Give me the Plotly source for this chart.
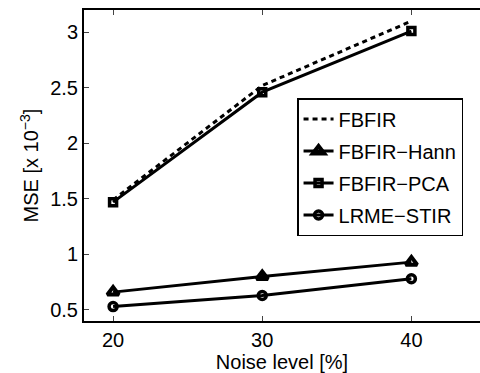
import plotly.graph_objects as go

noise = [20, 30, 40]
fbfir = [1.49, 2.52, 3.10]
fbfir_hann = [0.66, 0.80, 0.93]
fbfir_pca = [1.47, 2.46, 3.01]
lrme_stir = [0.53, 0.63, 0.78]

FONT = "Liberation Sans, Arial, sans-serif"

fig = go.Figure()
fig.add_trace(go.Scatter(x=noise, y=fbfir, name="FBFIR", mode="lines",
                         line=dict(color="black", width=3, dash="5px,4px"),
                         legendgroup="a"))
fig.add_trace(go.Scatter(x=noise, y=fbfir_hann, name="FBFIR−Hann", mode="lines+markers",
                         line=dict(color="black", width=3),
                         marker=dict(symbol="triangle-up-open", size=10, color="black",
                                     line=dict(width=4, color="black")),
                         legendgroup="b"))
fig.add_trace(go.Scatter(x=noise, y=fbfir_pca, name="FBFIR−PCA", mode="lines+markers",
                         line=dict(color="black", width=3),
                         marker=dict(symbol="square-open", size=7, color="black",
                                     line=dict(width=3.5, color="black")),
                         legendgroup="c"))
fig.add_trace(go.Scatter(x=noise, y=lrme_stir, name="LRME−STIR", mode="lines+markers",
                         line=dict(color="black", width=3),
                         marker=dict(symbol="circle-open", size=8, color="black",
                                     line=dict(width=3.5, color="black")),
                         legendgroup="d"))

fig.update_layout(
    width=480, height=373,
    margin=dict(l=84, r=0, t=10, b=52),
    paper_bgcolor="white", plot_bgcolor="white",
    font=dict(family=FONT, size=20, color="black"),
    showlegend=True,
    legend=dict(x=0.538, y=0.717, xanchor="left", yanchor="top",
                bordercolor="black", borderwidth=1.5, bgcolor="white",
                tracegroupgap=3, font=dict(size=20), itemwidth=30,
                traceorder="grouped"),
    xaxis=dict(range=[18.05, 44.6], tickvals=noise, ticks="inside", ticklen=5,
               showline=True, linecolor="black", linewidth=2, mirror="ticks",
               showgrid=False, zeroline=False,
               title=dict(text="Noise level [%]", font=dict(size=20), standoff=2)),
    yaxis=dict(range=[0.4, 3.2], dtick=0.5, tick0=0.5, ticks="inside", ticklen=5,
               showline=True, linecolor="black", linewidth=2, mirror=False,
               showgrid=False, zeroline=False,
               title=dict(text="MSE [x 10<sup>−3</sup>]", font=dict(size=20), standoff=6)),
)

fig.write_html("out.html")
